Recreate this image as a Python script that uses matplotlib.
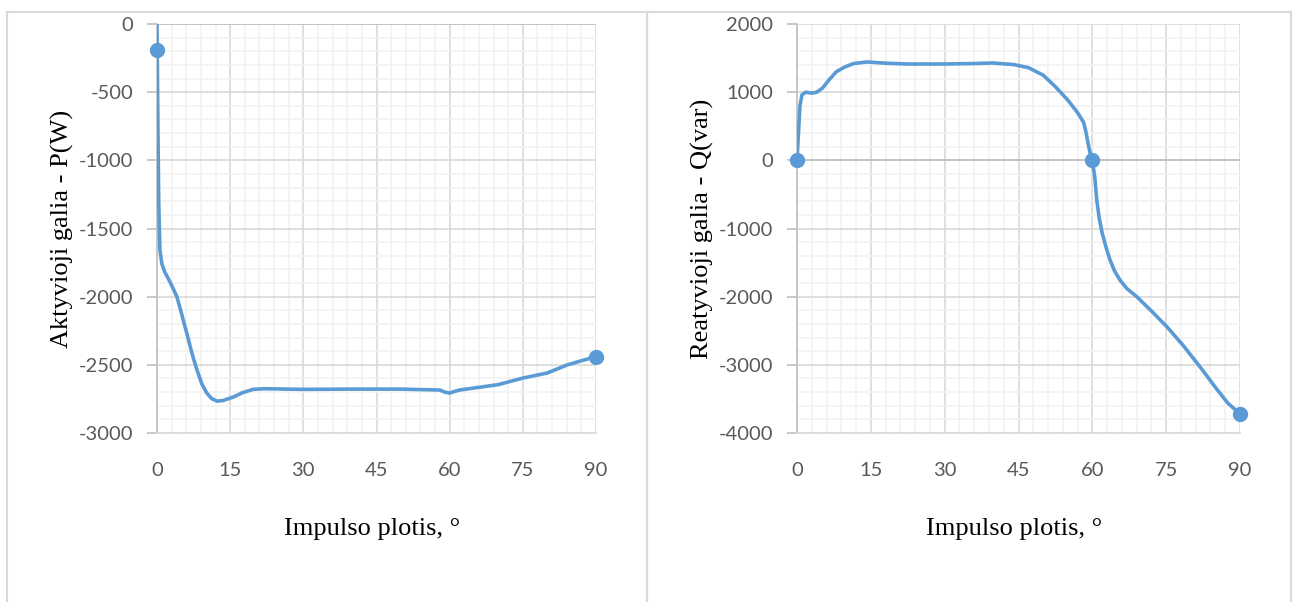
import matplotlib.pyplot as plt
from matplotlib.patches import Rectangle
from matplotlib.ticker import MultipleLocator

plt.rcParams['axes.unicode_minus'] = False

# aktyvioji galia P(W)
p_x = [0, 0.05, 0.2, 0.35, 0.6, 1.0, 1.6, 2.5, 3.3, 4.1, 5.0, 6.1, 7.2, 8.2, 9.2,
       10.2, 11.2, 12.3, 13.5, 15.6, 17.5, 19.7, 22, 30, 40, 50, 58, 59, 60, 61,
       62, 65, 70, 75, 80, 84, 87, 90]
p_y = [0, -190, -800, -1300, -1658, -1760, -1820, -1880, -1940, -2003, -2120,
       -2267, -2420, -2538, -2640, -2707, -2748, -2766, -2762, -2737, -2705, -2680,
       -2675, -2680, -2678, -2678, -2685, -2700, -2707, -2695, -2685, -2670, -2645,
       -2597, -2560, -2502, -2470, -2440]
p_mx = [0, 90]
p_my = [-190, -2440]

# reaktyvioji galia Q(var)
q_x = [0, 0.3, 0.6, 1.0, 1.8, 3.0, 4.0, 5.2, 6.5, 8, 9.7, 11.5, 14.2, 18, 22.6,
       30, 36, 39.7, 44, 47, 50, 52.5, 55, 57, 58.2, 58.6, 59, 59.5, 60, 60.5,
       60.9, 61.4, 62, 62.8, 63.6, 64.5, 65.6, 67, 69.1, 72, 75.2, 78.5, 81.9, 85,
       87.5, 90]
q_y = [0, 400, 800, 960, 1000, 985, 1000, 1061, 1180, 1300, 1369, 1420, 1443, 1425,
       1413, 1413, 1420, 1428, 1405, 1360, 1250, 1080, 885, 700, 560, 450, 300, 120,
       0, -250, -582, -850, -1066, -1280, -1462, -1620, -1755, -1880, -2005, -2210,
       -2445, -2720, -3032, -3330, -3560, -3720]
q_mx = [0, 60, 90]
q_my = [0, 0, -3720]

x_ticks = [0, 15, 30, 45, 60, 75, 90]
blue = '#5b9bd5'

fig = plt.figure(figsize=(12.97, 6.02), dpi=100)
W, H = 1297, 602

# chart frames
for x0, x1 in [(7, 647), (647, 1291)]:
    fig.add_artist(Rectangle((x0 / W, -0.05), (x1 - x0) / W, (H - 12) / H + 0.05,
                             transform=fig.transFigure, fill=False,
                             edgecolor='#d9d9d9', lw=1.5))

def setup(ax, ylim, ymajor, yminor, ylabel):
    ax.set_xlim(0, 90)
    ax.set_ylim(*ylim)
    ax.xaxis.set_major_locator(MultipleLocator(15))
    ax.xaxis.set_minor_locator(MultipleLocator(3))
    ax.yaxis.set_major_locator(MultipleLocator(ymajor))
    ax.yaxis.set_minor_locator(MultipleLocator(yminor))
    ax.grid(which='minor', color='#f2f2f2', lw=1.2)
    ax.grid(which='major', color='#d9d9d9', lw=1.2)
    ax.set_axisbelow(True)
    for s in ['top', 'right']:
        ax.spines[s].set_visible(False)
    ax.spines['left'].set_color('#bfbfbf')
    ax.spines['left'].set_linewidth(1.2)
    ax.spines['bottom'].set_color('#d9d9d9')
    ax.spines['bottom'].set_linewidth(1.2)
    ax.axhline(0, color='#bfbfbf', lw=1.2, zorder=1.5)
    ax.tick_params(axis='y', which='major', length=7, color='#bfbfbf', width=1.2,
                   pad=10, labelsize=14.5, labelcolor='#595959')
    ax.tick_params(axis='x', which='major', length=0, pad=21, labelsize=14.5,
                   labelcolor='#595959')
    ax.tick_params(which='minor', length=0)
    ax.set_xticks(x_ticks)
    for lab in ax.get_xticklabels() + ax.get_yticklabels():
        lab.set_fontfamily('Lato')
    ax.set_xlabel('Impulso plotis, \u00b0', fontsize=19, family='Liberation Serif')
    ax.xaxis.set_label_coords(0.49, -0.208)
    ax.set_ylabel(ylabel, fontsize=19, family='Liberation Serif')
    ax.yaxis.set_label_coords(-0.188, 0.5)

ax1 = fig.add_axes([157 / W, 1 - 433 / H, 439 / W, 409 / H])
ax1.plot(p_x, p_y, color=blue, lw=2.6, solid_capstyle='round', solid_joinstyle='round', zorder=3)
ax1.plot(p_mx, p_my, 'o', color=blue, ms=10, zorder=4, clip_on=False)
setup(ax1, (-3000, 0), 500, 100, 'Aktyvioji galia - P(W)')

ax2 = fig.add_axes([797 / W, 1 - 433 / H, 443 / W, 409 / H])
ax2.plot(q_x, q_y, color=blue, lw=2.6, solid_capstyle='round', solid_joinstyle='round', zorder=3)
ax2.plot(q_mx, q_my, 'o', color=blue, ms=10, zorder=4, clip_on=False)
setup(ax2, (-4000, 2000), 1000, 200, 'Reatyvioji galia - Q(var)')

fig.savefig('out.png', dpi=100)
